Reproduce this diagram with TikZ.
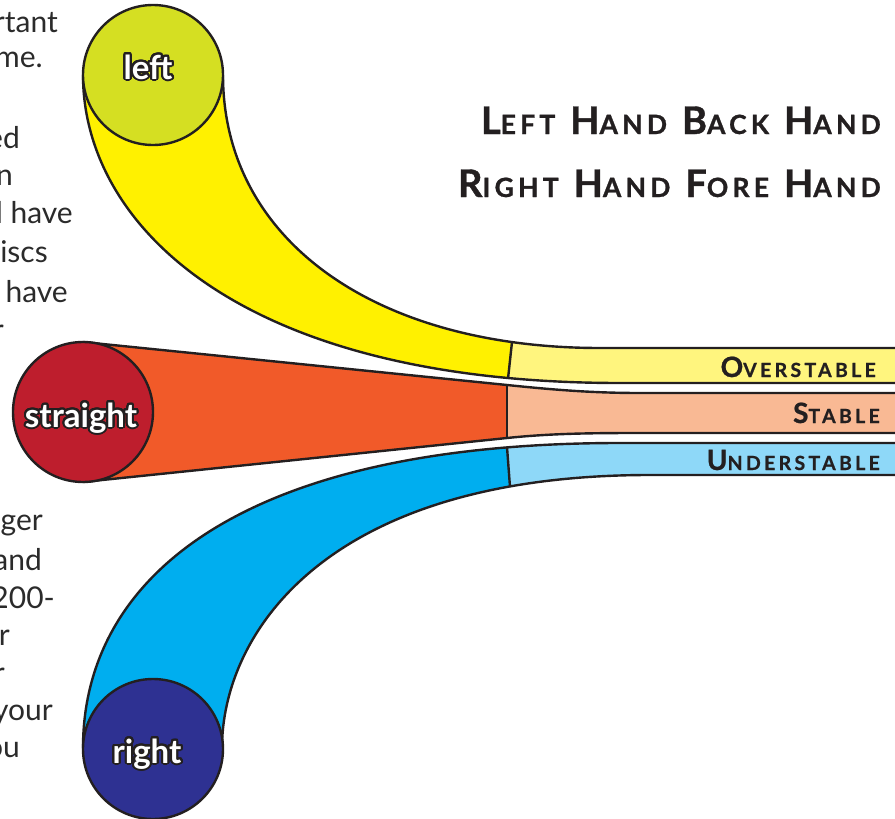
\documentclass[tikz,border=0pt]{standalone}
\usepackage{fontspec}
\setmainfont{Lato}
\usepackage{contour}
\contourlength{2pt}
\contournumber{32}
\definecolor{ink}{HTML}{231F20}
\definecolor{leftc}{HTML}{D5DF22}
\definecolor{yel}{HTML}{FFF100}
\definecolor{paleyel}{HTML}{FFF57E}
\definecolor{redc}{HTML}{BE1E2D}
\definecolor{orng}{HTML}{F15A29}
\definecolor{salmon}{HTML}{F9B994}
\definecolor{navy}{HTML}{2E3192}
\definecolor{cyanb}{HTML}{00AEEF}
\definecolor{paleblue}{HTML}{8ED8F8}
\definecolor{txt}{HTML}{2B2B2B}
\newcommand\TiBig[1]{{\fontsize{38}{38}\selectfont#1}}
\newcommand\TiSm[1]{{\fontsize{26.5}{26.5}\selectfont#1}}
\newcommand\BaBig[1]{{\fontsize{28}{28}\selectfont#1}}
\newcommand\BaSm[1]{{\fontsize{19.5}{19.5}\selectfont#1}}
\newcommand\wgap{\hspace*{15pt}}
\tikzset{
  outline/.style={draw=ink, line width=2.4pt, line join=round},
  divider/.style={draw=ink, line width=2.4pt},
  disc/.style={circle, draw=ink, line width=2.4pt, minimum size=140pt, inner sep=0pt},
  disclabel/.style={anchor=base, inner sep=0pt, text=white, font=\fontsize{33}{33}\selectfont\bfseries},
  bandlabel/.style={anchor=base east, inner sep=0pt, text=ink, font=\bfseries\addfontfeature{LetterSpace=17,FakeBold=0.8}},
  titlelabel/.style={anchor=base east, inner sep=0pt, text=ink, font=\bfseries\addfontfeature{LetterSpace=16,FakeBold=1}},
  para/.style={anchor=base east, inner sep=0pt, text=txt, font=\fontsize{30}{30}\selectfont},
}
\begin{document}
\begin{tikzpicture}[x=1pt,y=-1pt]
\useasboundingbox (0,0) rectangle (895,819);
\clip (0,0) rectangle (895,819);
% paragraph fragments (cut at the left edge)
\node[para] (p1) at (58,32) {rtant};
\node[para] (p2) at (43,67) {me.};
\node[para] (p3) at (20,148) {ed};
\node[para] (p4) at (13,185) {n};
\node[para] (p5) at (73,223) {l have};
\node[para] (p6) at (48,262) {iscs};
\node[para] (p7) at (68,302) {, have};
\node[para] (p8) at (4,340) {r};
\node[para] (q1) at (43,530) {ger};
\node[para] (q2) at (42,570) {and};
\node[para] (q3) at (55,608) {200-};
\node[para] (q4) at (10,645) {r};
\node[para] (q5) at (5,683) {r};
\node[para] (q6) at (53,720) {your};
\node[para] (q7) at (20,757) {ou};
% yellow band
\def\pathY{(223,75) .. controls (223,240) and (375,348) .. (600,348) -- (900,348) -- (900,383) -- (620,383) .. controls (240,383) and (83,225) .. (83,75) -- cycle}
\fill[yel] \pathY;
\begin{scope}
  \clip \pathY;
  \fill[paleyel] (513.3,330) -- (506.8,390) -- (900,390) -- (900,330) -- cycle;
  \draw[divider] (513.3,330) -- (506.8,390);
\end{scope}
\draw[outline] \pathY;
% orange band
\def\pathO{(83,342) -- (507,385) .. controls (550,389.4) and (590,393) .. (640,393) -- (900,393) -- (900,433) -- (640,433) .. controls (590,433) and (550,433.5) .. (507,438) -- (83,482) -- cycle}
\fill[orng] \pathO;
\begin{scope}
  \clip \pathO;
  \fill[salmon] (507,375) -- (507,450) -- (900,450) -- (900,375) -- cycle;
  \draw[divider] (507,375) -- (507,450);
\end{scope}
\draw[outline] \pathO;
% blue band
\def\pathB{(83,748) .. controls (83,578) and (240,443) .. (620,443) -- (900,443) -- (900,475) -- (650,475) .. controls (320,475) and (222,638) .. (222,748) -- cycle}
\fill[cyanb] \pathB;
\begin{scope}
  \clip \pathB;
  \fill[paleblue] (506.1,435) -- (510.6,495) -- (900,495) -- (900,435) -- cycle;
  \draw[divider] (506.1,435) -- (510.6,495);
\end{scope}
\draw[outline] \pathB;
% discs
\node[disc, fill=leftc] (cl) at (153,75) {};
\node[disc, fill=redc] (cs) at (83,412) {};
\node[disc, fill=navy] (cr) at (153,749) {};
\node[disclabel] (ll) at (148,79) {\contour{ink}{left}};
\node[disclabel] (sl) at (81,427) {\contour{ink}{straight}};
\node[disclabel] (rl) at (147,763) {\contour{ink}{right}};
% band labels
\node[bandlabel] (ov) at (876,377) {\BaBig{O}\BaSm{VERSTABLE}};
\node[bandlabel] (st) at (880,423) {\BaBig{S}\BaSm{TABLE}};
\node[bandlabel] (un) at (880,470) {\BaBig{U}\BaSm{NDERSTABLE}};
% titles
\node[titlelabel] (t1) at (881,134) {\TiBig{L}\TiSm{EFT}\wgap\TiBig{H}\TiSm{AND}\wgap\TiBig{B}\TiSm{ACK}\wgap\TiBig{H}\TiSm{AND}};
\node[titlelabel] (t2) at (881,197) {\TiBig{R}\TiSm{IGHT}\wgap\TiBig{H}\TiSm{AND}\wgap\TiBig{F}\TiSm{ORE}\wgap\TiBig{H}\TiSm{AND}};
\end{tikzpicture}
\end{document}
